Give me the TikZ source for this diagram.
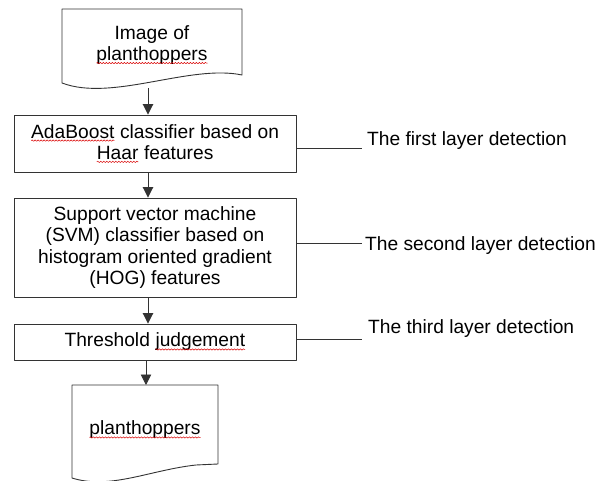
\documentclass[tikz,border=0pt]{standalone}
\usepackage{fontspec}
\setmainfont{Liberation Sans}
\usetikzlibrary{arrows.meta,decorations.pathmorphing}
\newcommand{\spellmark}[1]{\tikz[baseline=(w.base)]{\node[inner sep=0pt,outer sep=0pt,draw=none,minimum width=0pt,minimum height=0pt] (w) {#1};
\draw[red!85!black,line width=0.5pt,decorate,decoration={snake,amplitude=0.7pt,segment length=3pt}] ([yshift=-2.5pt]w.base west) -- ([yshift=-2.5pt]w.base east);}}
\begin{document}
\begin{tikzpicture}[x=1pt, y=-1pt, line join=round, >={Triangle[length=10.5pt,width=10.5pt]},
	font=\fontsize{19.2}{21.3}\selectfont,
	box/.style={draw=black!80, line width=0.9pt, minimum width=282pt, align=center, inner sep=0pt},
	doc/.style={draw=black!80, line width=0.9pt},
	layer/.style={anchor=base west, inner sep=0pt}]
	\useasboundingbox (0,0) rectangle (597,481);
	% input and output documents
	\draw[doc] (62,9) -- (242,9) -- (242,75) .. controls (190,64) and (112,102) .. (62,83) -- cycle;
	\node[align=center] (img) at (152,45) {Image of\\\spellmark{planthoppers}};
	\draw[doc] (72,385) -- (218,385) -- (218,464) -- (196,465) .. controls (150,470) and (110,490) .. (72,478) -- cycle;
	\node (out) at (145,430) {\spellmark{planthoppers}};
	\coordinate (imgout) at (148,88);
	\coordinate (outtop) at (146,385);
	% detection stages
	\node[box, minimum height=57pt] (ada) at (155,143.5) {\spellmark{AdaBoost} classifier based on\\\spellmark{Haar} features};
	\node[box, minimum height=99pt] (svm) at (155,247.5) {Support vector machine\\(SVM) classifier based on\\histogram oriented gradient\\(HOG) features};
	\node[box, minimum height=36pt] (thr) at (155,342) {Threshold \spellmark{judgement}};
	\draw[doc,->] (imgout) -- (imgout |- ada.north);
	\draw[doc,->] (ada.south -| imgout) -- (svm.north -| imgout);
	\draw[doc,->] (svm.south -| imgout) -- (thr.north -| imgout);
	\draw[doc,->] (thr.south -| outtop) -- (outtop);
	% layer labels
	\coordinate (t1) at (362,148);
	\coordinate (t2) at (362,243);
	\coordinate (t3) at (362,339);
	\node[layer] (lay1) at (367,145.5) {The first layer detection};
	\node[layer] (lay2) at (365,250.5) {The second layer detection};
	\node[layer] (lay3) at (368,333.5) {The third layer detection};
	\draw[doc] (ada.east |- t1) -- (t1);
	\draw[doc] (svm.east |- t2) -- (t2);
	\draw[doc] (thr.east |- t3) -- (t3);
\end{tikzpicture}
\end{document}
